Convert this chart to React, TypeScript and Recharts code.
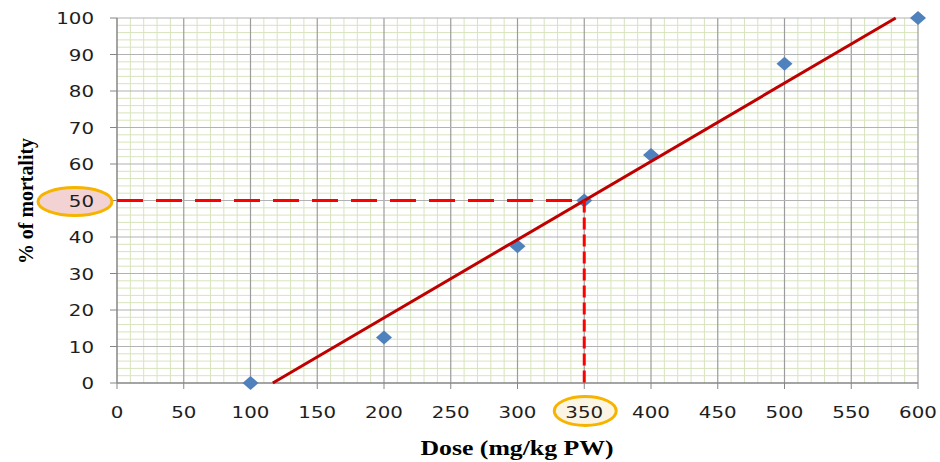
import React from 'react';
import { ComposedChart, Scatter, XAxis, YAxis, ReferenceLine } from 'recharts';

const doses = [100, 200, 300, 350, 400, 500, 600];
const mortality = [0, 12.5, 37.5, 50, 62.5, 87.5, 100];
const trendDoses = [116.7, 583.3];
const trendMortality = [0, 100];
const ld50Dose = 350;
const ld50Mortality = 50;
const xTicks = [0, 50, 100, 150, 200, 250, 300, 350, 400, 450, 500, 550, 600];
const yTicks = [0, 10, 20, 30, 40, 50, 60, 70, 80, 90, 100];
const minorXStep = 10;
const minorYStep = 2;

const minorX = Array.from({ length: 600 / minorXStep + 1 }, (_, i) => i * minorXStep).filter((v) => v % 50 !== 0);
const minorY = Array.from({ length: 100 / minorYStep + 1 }, (_, i) => i * minorYStep).filter((v) => v % 10 !== 0);

const points = doses.map((d, i) => ({ x: d, y: mortality[i] }));
const trend = trendDoses.map((d, i) => ({ x: d, y: trendMortality[i] }));
const hDash = [{ x: 0, y: ld50Mortality }, { x: ld50Dose, y: ld50Mortality }];
const vDash = [{ x: ld50Dose, y: ld50Mortality }, { x: ld50Dose, y: 0 }];

const W = 940;
const H = 462;
const X_AXIS_H = 30;
const M = { top: 18, right: 22, bottom: 79 - X_AXIS_H, left: 0 };
const Y_AXIS_W = 117;

const DIGIT_W = 12.6;

const XTick = (props: any) => {
  const { x, payload } = props;
  const label = String(payload.value);
  const cx = x;
  const baseY = 418;
  return (
    <g>
      {payload.value === ld50Dose && (
        <ellipse cx={cx + 1} cy={411} rx={31} ry={14.5} fill="#fdf5e4" stroke="#f6b400" strokeWidth={3} />
      )}
      <text
        x={cx}
        y={baseY}
        textAnchor="middle"
        fontFamily="DejaVu Sans, Verdana, sans-serif"
        fontSize={15}
        fill="#1e1e1e"
        textLength={label.length * DIGIT_W}
        lengthAdjust="spacingAndGlyphs"
      >
        {label}
      </text>
    </g>
  );
};

const YTick = (props: any) => {
  const { y, payload } = props;
  const label = String(payload.value);
  const endX = 94;
  return (
    <g>
      {payload.value === ld50Mortality && (
        <ellipse cx={75} cy={y + 1} rx={37} ry={14} fill="#f2d2d3" stroke="#f6b400" strokeWidth={3} />
      )}
      <text
        x={endX}
        y={y + 6}
        textAnchor="end"
        fontFamily="DejaVu Sans, Verdana, sans-serif"
        fontSize={16}
        fill="#1e1e1e"
        textLength={label.length * DIGIT_W}
        lengthAdjust="spacingAndGlyphs"
      >
        {label}
      </text>
    </g>
  );
};

const Diamond = (props: any) => {
  const { cx, cy } = props;
  if (cx == null || cy == null) return null;
  return (
    <polygon
      points={`${cx - 8},${cy} ${cx},${cy - 7} ${cx + 8},${cy} ${cx},${cy + 7}`}
      fill="#4f81bd"
    />
  );
};

const NoShape = () => null;

export default function App() {
  return (
    <div style={{ position: 'absolute', left: 0, top: 0, width: W, height: H, background: '#fff' }}>
      <ComposedChart width={W} height={H} margin={M}>
        <XAxis
          type="number"
          dataKey="x"
          domain={[0, 600]}
          ticks={xTicks}
          interval={0}
          height={X_AXIS_H}
          tick={<XTick />}
          tickSize={6}
          tickLine={{ stroke: '#868686' }}
          axisLine={{ stroke: '#868686', strokeWidth: 1.5 }}
        />
        <YAxis
          type="number"
          dataKey="y"
          domain={[0, 100]}
          ticks={yTicks}
          interval={0}
          width={Y_AXIS_W}
          tick={<YTick />}
          tickSize={7}
          tickLine={{ stroke: '#868686' }}
          axisLine={{ stroke: '#868686', strokeWidth: 1.5 }}
        />
        {minorX.map((v) => (
          <ReferenceLine key={'mx' + v} x={v} stroke="#d7e4bd" strokeWidth={1} />
        ))}
        {minorY.map((v) => (
          <ReferenceLine key={'my' + v} y={v} stroke="#d7e4bd" strokeWidth={1} />
        ))}
        {xTicks.filter((v) => v > 0).map((v) => (
          <ReferenceLine key={'Mx' + v} x={v} stroke="#9c9c9c" strokeWidth={1.2} />
        ))}
        {yTicks.filter((v) => v > 0).map((v) => (
          <ReferenceLine key={'My' + v} y={v} stroke="#b2b2b2" strokeWidth={1.2} />
        ))}
        <Scatter data={points} shape={<Diamond />} isAnimationActive={false} />
        <Scatter
          data={trend}
          shape={<NoShape />}
          line={{ stroke: '#c00000', strokeWidth: 3 }}
          isAnimationActive={false}
        />
        <Scatter
          data={hDash}
          shape={<NoShape />}
          line={{ stroke: '#ff0000', strokeWidth: 3, strokeDasharray: '26 13' }}
          isAnimationActive={false}
        />
        <Scatter
          data={vDash}
          shape={<NoShape />}
          line={{ stroke: '#ff0000', strokeWidth: 3, strokeDasharray: '12 5' }}
          isAnimationActive={false}
        />
      </ComposedChart>
      <svg width={W} height={H} style={{ position: 'absolute', left: 0, top: 0, pointerEvents: 'none' }}>
        <text
          x={517}
          y={455}
          textAnchor="middle"
          fontFamily="Liberation Serif, Times New Roman, serif"
          fontWeight="bold"
          fontSize={20}
          fill="#000"
          textLength={193}
          lengthAdjust="spacingAndGlyphs"
        >
          Dose (mg/kg PW)
        </text>
        <text
          x={0}
          y={0}
          transform="translate(33,201) rotate(-90)"
          textAnchor="middle"
          fontFamily="Liberation Serif, Times New Roman, serif"
          fontWeight="bold"
          fontSize={21}
          fill="#000"
          textLength={126}
          lengthAdjust="spacingAndGlyphs"
        >
          % of mortality
        </text>
      </svg>
    </div>
  );
}
